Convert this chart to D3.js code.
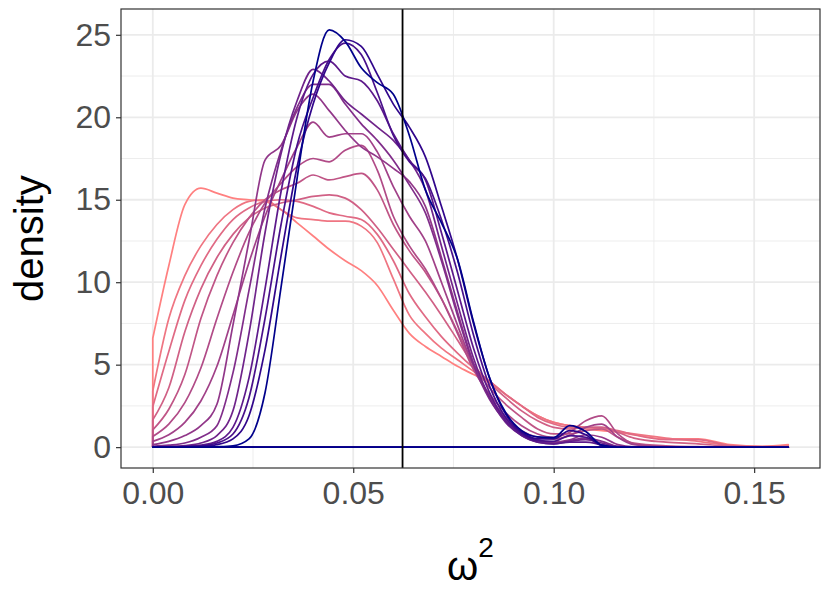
<!DOCTYPE html>
<html>
<head>
<meta charset="utf-8">
<script src="https://cdn.jsdelivr.net/npm/d3@7"></script>
<style>
  body { margin: 0; background: #fff; }
  svg { display: block; font-family: "Liberation Sans", Arial, sans-serif; }
</style>
</head>
<body>
<svg width="830" height="593"></svg>
<script>
var xs = [0, .004, .008, .012, .016, .020, .024, .028, .032, .036, .040, .044, .048, .052, .056, .060,
          .064, .068, .072, .076, .080, .084, .088, .092, .096, .100, .104, .108, .112, .116, .120,
          .128, .136, .144, .152, .1585];

// one density curve per group, from the salmon one to the dark blue one
var c0  = [6.6, 11.0, 14.7, 15.7, 15.4, 15.1, 15.0, 14.9, 14.4, 13.6, 12.8, 12.0, 11.3, 10.7, 9.8, 8.3, 6.9, 6.1, 5.5, 4.9, 4.4, 3.9, 3.2, 2.5, 1.9, 1.5, 1.3, 1.1, 1.0, 0.9, 0.75, 0.5, 0.5, 0.15, 0.05, 0.15];
var c1  = [3.4, 7.8, 10.4, 12.2, 13.5, 14.4, 14.9, 15.0, 14.4, 13.9, 13.8, 13.7, 13.7, 13.4, 12.4, 10.2, 8.0, 6.9, 6.0, 5.3, 4.6, 4.0, 3.2, 2.5, 1.9, 1.5, 1.3, 1.2, 1.1, 0.95, 0.8, 0.55, 0.35, 0.1, 0.03, 0.06];
var c2  = [2.45, 5.8, 8.9, 11.0, 12.6, 13.8, 14.5, 14.9, 15.0, 14.9, 14.6, 14.2, 14.0, 13.8, 12.9, 11.3, 9.3, 7.9, 6.7, 5.7, 4.8, 4.0, 3.2, 2.5, 1.8, 1.4, 1.2, 1.2, 1.2, 1.0, 0.75, 0.45, 0.45, 0.1, 0.02, 0.03];
var c3  = [1.65, 3.6, 7.0, 9.6, 11.5, 12.9, 13.9, 14.5, 14.8, 15.0, 15.2, 15.3, 15.1, 14.4, 13.3, 12.0, 10.7, 9.4, 8.0, 6.5, 5.0, 3.9, 3.0, 2.2, 1.6, 1.2, 1.1, 1.2, 1.2, 0.9, 0.55, 0.3, 0.2, 0.05, 0, 0];
var c4  = [1.05, 2.3, 4.4, 7.8, 10.4, 12.4, 13.9, 15.0, 15.6, 16.0, 16.5, 16.2, 16.4, 16.6, 15.6, 13.5, 11.9, 10.6, 9.0, 7.0, 5.0, 3.6, 2.6, 1.8, 1.1, 0.8, 0.8, 1.0, 1.1, 0.6, 0.25, 0.08, 0.03, 0, 0, 0];
var c5  = [0.65, 1.4, 2.7, 4.8, 7.8, 10.6, 13.0, 14.8, 16.0, 17.0, 17.5, 17.3, 18.0, 18.3, 16.8, 14.0, 12.2, 10.8, 9.0, 6.9, 4.7, 3.2, 2.1, 1.3, 0.8, 0.6, 0.9, 1.6, 1.9, 0.8, 0.2, 0.03, 0, 0, 0, 0];
var c6  = [0.35, 0.75, 1.5, 2.8, 4.9, 8.0, 11.2, 14.0, 16.2, 18.2, 19.7, 18.8, 19.0, 19.0, 17.9, 15.8, 14.0, 12.5, 10.0, 7.4, 4.9, 3.1, 1.8, 1.0, 0.6, 0.5, 0.7, 1.2, 1.4, 0.6, 0.15, 0.02, 0, 0, 0, 0];
var c7  = [0.15, 0.35, 0.7, 1.3, 2.6, 7.4, 12.5, 17.4, 18.3, 20.4, 21.4, 20.4, 19.2, 18.2, 17.6, 16.9, 16.1, 14.6, 11.5, 8.2, 5.1, 3.0, 1.7, 0.9, 0.45, 0.3, 0.45, 0.75, 0.6, 0.15, 0.02, 0, 0, 0, 0, 0];
var c8  = [0.05, 0.12, 0.25, 0.6, 1.3, 4.5, 9.5, 14.5, 18.0, 20.6, 22.0, 22.0, 20.8, 19.6, 18.6, 17.4, 15.9, 14.2, 11.3, 8.0, 5.0, 2.9, 1.6, 0.8, 0.4, 0.25, 0.4, 0.55, 0.35, 0.05, 0, 0, 0, 0, 0, 0];
var c9  = [0.02, 0.05, 0.1, 0.25, 0.7, 2.2, 6.9, 13.0, 17.8, 21.0, 22.9, 22.2, 21.0, 20.2, 19.4, 18.6, 17.4, 15.6, 12.2, 8.7, 5.4, 3.0, 1.5, 0.7, 0.3, 0.2, 0.35, 0.45, 0.25, 0.03, 0, 0, 0, 0, 0, 0];
var c10 = [0.01, 0.02, 0.05, 0.12, 0.35, 1.2, 4.2, 9.6, 15.5, 20.0, 22.6, 23.4, 22.5, 22.2, 21.0, 19.0, 17.4, 16.2, 13.0, 9.5, 6.0, 3.3, 1.6, 0.7, 0.3, 0.2, 0.3, 0.3, 0.15, 0.02, 0, 0, 0, 0, 0, 0];
var c11 = [0, 0.01, 0.03, 0.08, 0.25, 0.8, 3.0, 7.8, 13.5, 18.3, 21.2, 23.5, 24.5, 23.8, 21.5, 18.9, 17.3, 16.3, 13.8, 10.6, 6.8, 3.7, 1.8, 0.8, 0.4, 0.35, 0.7, 0.6, 0.1, 0, 0, 0, 0, 0, 0, 0];
var c12 = [0, 0, 0.02, 0.05, 0.15, 0.5, 1.9, 5.9, 11.6, 17.0, 20.8, 23.3, 24.7, 24.3, 22.6, 20.8, 19.4, 17.6, 14.6, 11.4, 7.5, 4.2, 2.0, 0.9, 0.5, 0.5, 1.0, 0.75, 0.1, 0, 0, 0, 0, 0, 0, 0];
var c13 = [0, 0, 0, 0, 0.02, 0.08, 0.5, 3.3, 9.7, 16.3, 22.2, 25.3, 24.6, 23.0, 22.1, 21.4, 18.9, 15.6, 13.6, 11.4, 7.6, 4.2, 2.1, 1.0, 0.62, 0.58, 1.3, 0.95, 0.12, 0, 0, 0, 0, 0, 0, 0];

var curves = [c0, c1, c2, c3, c4, c5, c6, c7, c8, c9, c10, c11, c12, c13];

var refLine = 0.0623;

var xTicks = [0, 0.05, 0.10, 0.15];
var xTickLabels = ["0.00", "0.05", "0.10", "0.15"];
var xMinor = [0.025, 0.075, 0.125];
var yTicks = [0, 5, 10, 15, 20, 25];
var yMinor = [2.5, 7.5, 12.5, 17.5, 22.5];

var panelL = 121, panelR = 820, panelT = 9, panelB = 468;

var svg = d3.select("svg");

// ggplot style 5% expansion
var xExt = d3.extent(xs);
var xPad = (xExt[1] - xExt[0]) * 0.05;
var yMax = d3.max(curves, c => d3.max(c));
var yPad = yMax * 0.05;

var x = d3.scaleLinear().domain([xExt[0] - xPad, xExt[1] + xPad]).range([panelL, panelR]);
var y = d3.scaleLinear().domain([-yPad, yMax + yPad]).range([panelB, panelT]);

var color = d3.scaleLinear()
    .domain([0, curves.length - 1])
    .range(["#ff8080", "#00008b"])
    .interpolate(d3.interpolateLab);

// grid
var grid = svg.append("g");
grid.selectAll(".xminor").data(xMinor).enter().append("line")
    .attr("x1", d => x(d)).attr("x2", d => x(d)).attr("y1", panelT).attr("y2", panelB)
    .attr("stroke", "#ebebeb").attr("stroke-width", 0.9);
grid.selectAll(".yminor").data(yMinor).enter().append("line")
    .attr("x1", panelL).attr("x2", panelR).attr("y1", d => y(d)).attr("y2", d => y(d))
    .attr("stroke", "#ebebeb").attr("stroke-width", 0.9);
grid.selectAll(".xmajor").data(xTicks).enter().append("line")
    .attr("x1", d => x(d)).attr("x2", d => x(d)).attr("y1", panelT).attr("y2", panelB)
    .attr("stroke", "#ebebeb").attr("stroke-width", 1.8);
grid.selectAll(".ymajor").data(yTicks).enter().append("line")
    .attr("x1", panelL).attr("x2", panelR).attr("y1", d => y(d)).attr("y2", d => y(d))
    .attr("stroke", "#ebebeb").attr("stroke-width", 1.8);

// density outlines (full polygon, like the old geom_density)
var line = d3.line()
    .x((d, i) => x(xs[i]))
    .y(d => y(d))
    .curve(d3.curveMonotoneX);

svg.append("g").selectAll("path")
    .data(curves)
    .enter().append("path")
    .attr("d", c => "M" + x(xs[0]) + "," + y(0) + "L" + line(c).slice(1) +
        "L" + x(xs[xs.length - 1]) + "," + y(0) + "Z")
    .attr("fill", "none")
    .attr("stroke", (c, i) => color(i))
    .attr("stroke-width", 1.7)
    .attr("stroke-linejoin", "round");

svg.append("line")
    .attr("x1", x(refLine)).attr("x2", x(refLine))
    .attr("y1", panelT).attr("y2", panelB)
    .attr("stroke", "#000").attr("stroke-width", 1.8);

// panel border
svg.append("rect")
    .attr("x", panelL).attr("y", panelT)
    .attr("width", panelR - panelL).attr("height", panelB - panelT)
    .attr("fill", "none").attr("stroke", "#333").attr("stroke-width", 1.2);

// axes
var xAxis = d3.axisBottom(x)
    .tickValues(xTicks)
    .tickFormat((d, i) => xTickLabels[i])
    .tickSize(5).tickPadding(5);
var yAxis = d3.axisLeft(y)
    .tickValues(yTicks)
    .tickSize(5).tickPadding(5);

var gx = svg.append("g").attr("transform", "translate(0," + panelB + ")").call(xAxis);
var gy = svg.append("g").attr("transform", "translate(" + panelL + ",0)").call(yAxis);

[gx, gy].forEach(g => {
    g.select(".domain").remove();
    g.selectAll(".tick line").attr("stroke", "#333").attr("stroke-width", 1.2);
    g.selectAll(".tick text")
        .attr("fill", "#4d4d4d")
        .style("font-size", "32px")
        .style("font-family", "'Liberation Sans', Arial, sans-serif");
});
gx.selectAll(".tick text").attr("dy", "0.8em");

// titles
svg.append("text")
    .attr("transform", "translate(43," + (panelT + panelB) / 2 + ") rotate(-90)")
    .attr("text-anchor", "middle")
    .style("font-size", "40px")
    .text("density");

var xt = svg.append("text")
    .attr("x", (panelL + panelR) / 2)
    .attr("y", 580)
    .attr("text-anchor", "middle")
    .style("font-size", "40px");
xt.append("tspan").text("ω");
xt.append("tspan").attr("dy", -23).style("font-size", "28px").text("2");
</script>
</body>
</html>
